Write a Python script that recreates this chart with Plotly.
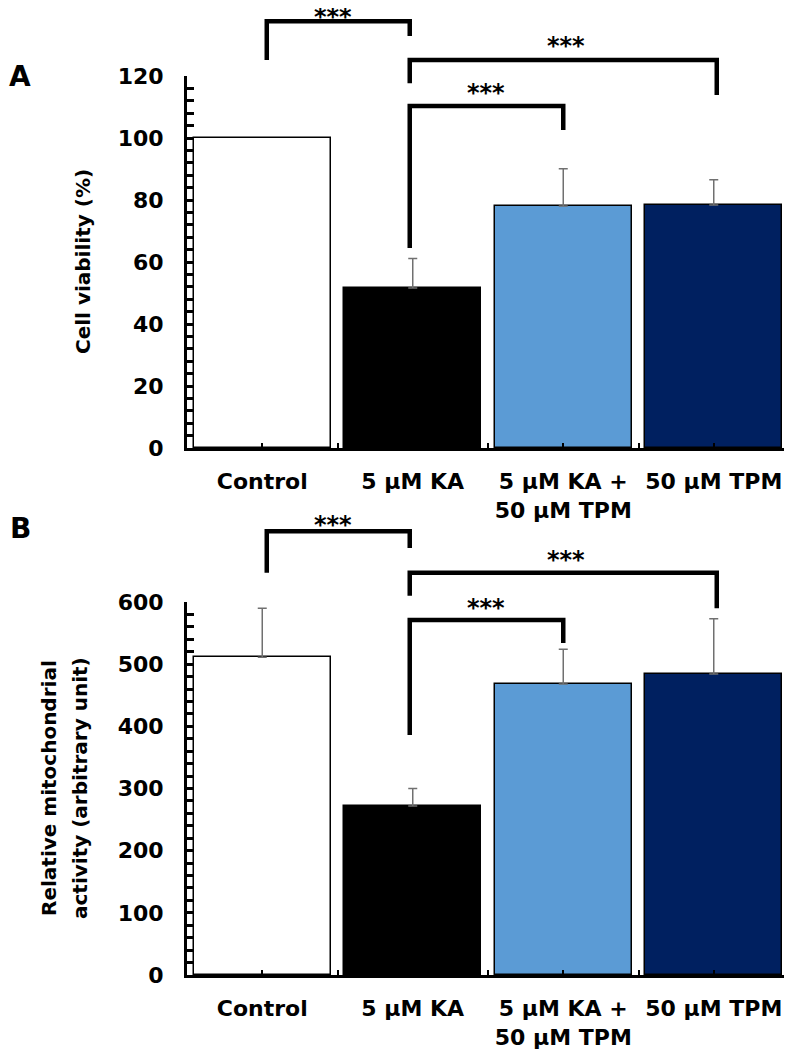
import plotly.graph_objects as go

# ---------------- data ----------------
categories = ["Control", "5 μM KA", "5 μM KA +<br>50 μM TPM", "50 μM TPM"]
bar_colors = ["#FFFFFF", "#000000", "#5B9BD5", "#002060"]

viability = [100, 51.6, 78.1, 78.4]
viability_err = [None, 9.5, 12.0, 8.1]

mito = [511, 272, 468, 484]
mito_err = [79, 28, 56, 89]

# significance brackets: x_left, x_right (category index), y_top, y_left_end, y_right_end, star_x, star_y
brackets_a = [
    (0.03, 0.98, 137.7, 125.2, 132.9, 0.47, 140.0),
    (0.98, 3.02, 125.2, 117.7, 113.9, 2.02, 130.6),
    (0.98, 2.00, 110.3, 64.5, 102.6, 1.49, 115.5),
]
brackets_b = [
    (0.03, 0.98, 714, 647, 687, 0.47, 729),
    (0.98, 3.02, 647, 610, 590, 2.02, 672),
    (0.98, 2.00, 571, 386, 534, 1.49, 595),
]

# ---------------- layout geometry ----------------
VIEW_W, VIEW_H = 792, 1050
OFF = 8  # page body margin
W, H = VIEW_W - OFF, VIEW_H - OFF


def fx(px):
    return (px - OFF) / W


def fy(py):
    return 1 - (py - OFF) / H


XDOM = [fx(187), fx(789)]
YDOM_A = [fy(448), fy(76)]
YDOM_B = [fy(975), fy(602)]
YMAX_A = 120
YMAX_B = 600
FONT = "DejaVu Sans, Liberation Sans, Arial, sans-serif"
ERR_COLOR = "#707070"

xpos = list(range(len(categories)))

fig = go.Figure()


def add_panel(values, errs, xa, ya):
    fig.add_trace(go.Bar(
        x=xpos, y=values, width=0.91,
        marker=dict(color=bar_colors, line=dict(color="black", width=1.5)),
        xaxis=xa, yaxis=ya, showlegend=False, hoverinfo="skip",
    ))
    idx = [i for i, e in enumerate(errs) if e is not None]
    fig.add_trace(go.Scatter(
        x=[xpos[i] for i in idx], y=[values[i] for i in idx], mode="markers",
        marker=dict(size=1, opacity=0),
        error_y=dict(type="data", array=[errs[i] for i in idx], arrayminus=[0] * len(idx),
                     symmetric=False, color=ERR_COLOR, thickness=1.5, width=4.5),
        xaxis=xa, yaxis=ya, showlegend=False, hoverinfo="skip",
    ))


add_panel(viability, viability_err, "x", "y")
add_panel(mito, mito_err, "x2", "y2")

xaxis_common = dict(
    range=[-0.5, len(categories) - 0.5], domain=XDOM,
    tickmode="array", tickvals=xpos, ticktext=categories,
    showline=True, linecolor="black", linewidth=3,
    ticks="inside", ticklen=5, tickwidth=2, tickcolor="black",
    minor=dict(tickmode="array", tickvals=[i + 0.5 for i in xpos], ticks="inside",
               ticklen=5, tickwidth=2, tickcolor="black"),
    showgrid=False, zeroline=False, ticklabelstandoff=12,
    tickfont=dict(size=22, family=FONT, weight="bold", color="black"),
)


def yaxis_def(xa, dom, ymax, dtick, minor_dtick):
    return dict(
        anchor=xa, domain=dom, range=[0, ymax], tickmode="linear", tick0=0, dtick=dtick,
        showline=True, linecolor="black", linewidth=3,
        ticks="inside", ticklen=7, tickwidth=2.5, tickcolor="black",
        minor=dict(dtick=minor_dtick, ticks="inside", ticklen=7, tickwidth=2.5, tickcolor="black"),
        showgrid=False, zeroline=False, ticklabelstandoff=16,
        tickfont=dict(size=22, family=FONT, weight="bold", color="black"),
    )


fig.update_layout(
    width=W, height=H, margin=dict(l=0, r=0, t=0, b=0, autoexpand=False),
    paper_bgcolor="white", plot_bgcolor="rgba(0,0,0,0)",
    font=dict(family=FONT, size=20, color="black", weight="bold"),
    bargap=0,
    xaxis=dict(anchor="y", **xaxis_common),
    xaxis2=dict(anchor="y2", **xaxis_common),
    yaxis=yaxis_def("x", YDOM_A, YMAX_A, 20, 4),
    yaxis2=yaxis_def("x2", YDOM_B, YMAX_B, 100, 20),
)


def to_px(xi):
    return XDOM[0] + (xi + 0.5) / len(categories) * (XDOM[1] - XDOM[0])


def to_py(v, dom, ymax):
    return dom[0] + v / ymax * (dom[1] - dom[0])


def add_brackets(brackets, dom, ymax):
    for xl, xr, yt, yl, yr, sx, sy in brackets:
        x0, x1 = to_px(xl), to_px(xr)
        path = (f"M {x0},{to_py(yl, dom, ymax)} L {x0},{to_py(yt, dom, ymax)} "
                f"L {x1},{to_py(yt, dom, ymax)} L {x1},{to_py(yr, dom, ymax)}")
        fig.add_shape(type="path", path=path, xref="paper", yref="paper",
                      line=dict(color="black", width=4.5))
        fig.add_annotation(x=to_px(sx), y=to_py(sy, dom, ymax), xref="paper", yref="paper",
                           xanchor="center", yanchor="middle",
                           text="***", showarrow=False, yshift=-3,
                           font=dict(size=24, family=FONT, weight="bold", color="black"))


add_brackets(brackets_a, YDOM_A, YMAX_A)
add_brackets(brackets_b, YDOM_B, YMAX_B)

# panel letters
for letter, ypix in (("A", 76), ("B", 528)):
    fig.add_annotation(x=fx(20), y=fy(ypix), xref="paper", yref="paper", text=letter,
                       xanchor="center", yanchor="middle", showarrow=False,
                       font=dict(size=28, family=FONT, weight="bold", color="black"))

# y-axis titles
fig.add_annotation(x=fx(83), y=fy(262), xref="paper", yref="paper", text="Cell viability (%)",
                   xanchor="center", yanchor="middle", textangle=-90, showarrow=False,
                   font=dict(size=20, family=FONT, weight="bold", color="black"))
for line, xpix in (("Relative mitochondrial", 49), ("activity (arbitrary unit)", 80)):
    fig.add_annotation(x=fx(xpix), y=fy(788), xref="paper", yref="paper", text=line,
                       xanchor="center", yanchor="middle", textangle=-90, showarrow=False,
                       font=dict(size=20, family=FONT, weight="bold", color="black"))

fig.write_html("out.html")
